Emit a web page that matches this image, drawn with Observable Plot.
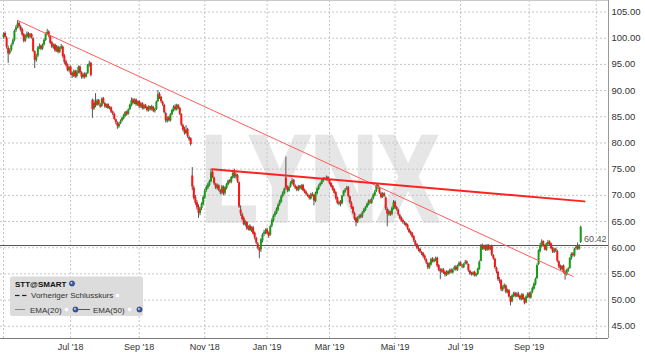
<!DOCTYPE html>
<html><head><meta charset="utf-8">
<script src="https://cdn.jsdelivr.net/npm/d3@7"></script>
<script src="https://cdn.jsdelivr.net/npm/@observablehq/plot@0.6"></script>
<style>html,body{margin:0;padding:0;background:#fff;} #chart{width:645px;height:357px;}</style>
</head><body><div id="chart"></div>
<script>
// Daily candles (trading-day index 0 = 1 May 2018 ... 370 = 18 Oct 2019)
const open = [
100.2,100.9,100.0,98.1,97.1,97.7,98.8,99.6,101.5,102.1,
102.8,102.1,101.6,100.7,99.5,100.2,100.9,100.2,100.7,99.9,
97.4,95.7,96.6,98.0,98.5,97.9,98.7,99.6,100.7,101.2,
100.3,99.1,98.2,98.7,97.5,98.3,97.3,98.0,98.3,96.6,
95.5,94.9,93.8,94.5,93.3,92.7,93.7,92.7,93.4,94.5,
93.4,92.5,93.1,92.6,93.3,94.8,95.2,
88.1,86.5,87.8,
87.2,88.1,87.2,87.0,88.5,87.5,86.8,87.3,86.5,86.7,
85.9,85.5,84.4,83.8,83.1,83.7,84.2,84.6,85.1,85.9,
85.5,86.4,87.1,88.2,87.5,88.2,87.2,87.9,86.9,87.5,
86.5,87.2,86.8,86.1,86.9,86.3,86.8,86.0,86.4,87.9,
89.3,88.7,87.8,87.2,85.6,84.1,84.8,84.2,85.4,86.1,
86.9,86.3,87.2,86.6,85.4,83.3,82.6,81.8,82.6,81.0,80.8,
73.7,
71.4,69.6,68.6,67.8,66.5,67.5,68.2,69.5,
70.9,71.4,71.9,72.6,74.4,73.3,72.1,71.3,71.8,70.9,
70.4,71.5,70.4,71.3,72.0,72.8,72.5,73.3,74.3,73.5,73.8,
72.4,
67.2,66.3,65.6,64.3,64.8,63.5,64.1,63.2,63.8,62.8,
61.8,60.7,59.8,59.6,61.3,62.6,62.8,63.4,62.8,
62.4,64.1,65.1,66.1,66.5,67.2,68.2,68.7,69.8,70.3,
73.3,
71.5,70.8,71.6,72.2,72.9,71.8,71.5,70.9,71.7,71.2,
71.9,71.0,70.6,70.1,69.9,69.3,70.2,70.0,68.8,70.3,
71.1,71.8,72.1,72.7,73.2,72.9,73.4,72.9,72.3,71.7,
71.1,70.5,69.5,68.3,68.7,68.4,69.9,70.6,71.1,71.5,
69.7,68.5,67.7,66.5,65.6,64.9,65.7,66.1,65.9,66.7,
67.1,67.7,68.2,68.9,68.5,69.3,69.9,70.7,71.9,71.4,
70.3,69.7,70.3,69.5,67.3,66.3,66.8,66.4,67.4,68.7,
67.7,67.2,66.2,65.7,65.2,64.7,64.6,64.3,63.5,63.0,
62.7,62.1,61.2,60.6,59.8,59.7,59.1,58.9,58.4,57.7,
57.0,56.1,56.7,57.8,57.3,57.5,58.0,56.6,55.8,55.3,
55.8,55.3,54.7,55.4,55.1,55.7,55.2,55.8,56.3,55.7,
56.5,57.1,56.5,56.2,56.9,57.3,56.8,55.5,55.1,54.8,
55.3,54.6,54.9,55.8,57.4,60.4,59.7,60.3,59.5,60.4,
59.6,60.3,58.5,57.8,56.1,55.3,53.8,53.7,51.9,52.3,
52.7,51.4,51.8,50.5,49.7,50.7,51.3,50.6,51.2,50.7,
50.1,51.0,50.2,49.5,50.5,51.2,50.4,51.4,52.1,52.9,
54.1,56.8,59.3,60.3,61.2,60.4,59.5,60.6,61.1,60.7,
59.9,59.1,59.7,59.3,57.3,56.4,55.8,56.5,55.3,54.8,
55.5,56.0,57.9,58.8,58.4,59.8,60.2,59.7,61.0
];
const high = [
101.0,101.2,100.3,98.5,98.0,98.9,99.8,101.6,102.4,103.4,
103.1,102.4,101.9,100.9,100.6,101.2,101.1,100.9,100.9,100.1,
97.6,96.9,98.4,98.9,98.7,98.9,99.9,101.0,101.7,101.4,
100.5,99.4,98.9,98.9,98.6,98.5,98.3,98.8,98.5,96.9,
95.8,95.1,94.6,94.7,93.5,93.9,93.9,93.8,94.7,94.7,
93.6,93.3,93.4,93.4,95.0,95.6,95.4,
88.4,88.2,89.4,
88.3,88.3,87.5,88.6,88.7,87.7,87.4,87.5,87.0,86.9,
86.1,85.7,84.6,84.0,83.9,84.4,84.9,85.5,86.0,86.1,
86.5,87.4,88.6,88.5,88.4,88.4,88.0,88.1,87.7,87.7,
87.3,87.4,86.9,87.1,87.0,87.2,87.0,86.6,88.0,90.0,
89.6,88.9,88.0,87.4,85.9,85.0,85.1,85.6,86.4,87.1,
87.3,87.4,87.3,86.8,85.6,83.6,83.0,83.3,82.8,81.3,81.0,
75.3,
71.8,70.0,69.0,68.2,67.7,68.6,69.9,71.1,
71.8,72.3,72.9,75.0,74.7,73.5,72.3,72.2,72.0,71.1,
71.9,71.8,71.7,72.3,72.9,73.0,73.6,74.5,75.0,74.3,74.0,
72.6,
68.0,66.6,65.9,65.2,65.0,64.2,64.4,64.0,64.1,63.0,
62.0,61.0,60.1,61.7,62.7,63.3,63.6,63.7,63.0,
64.3,65.5,66.3,66.9,67.6,68.4,69.1,70.0,70.7,71.4,
77.3,
71.8,71.8,72.6,73.2,73.0,72.0,71.7,71.9,71.9,72.0,
72.1,71.2,70.8,70.3,70.0,70.4,70.5,70.1,70.6,71.4,
72.0,72.4,73.0,73.4,73.4,73.7,73.6,73.0,72.4,71.9,
71.3,70.7,69.7,68.9,69.0,70.0,70.9,71.3,71.7,71.7,
69.9,68.8,67.9,66.8,65.8,65.9,66.3,66.4,66.9,67.5,
67.9,68.5,69.1,69.2,69.5,70.3,70.9,72.2,72.2,71.6,
70.6,70.5,70.5,69.7,67.6,67.2,67.0,67.8,69.0,68.9,
67.9,67.4,66.4,65.9,65.5,65.0,64.8,64.5,63.7,63.2,
62.9,62.3,61.4,60.8,60.3,59.9,59.3,59.1,58.6,57.9,
57.2,57.1,58.0,58.1,57.9,58.2,58.2,56.8,56.0,56.0,
56.0,55.5,55.6,55.6,55.9,56.0,55.9,56.5,56.6,56.7,
57.3,57.3,56.8,57.0,57.6,57.5,56.9,55.7,55.3,55.4,
55.5,55.1,56.1,57.5,60.6,60.7,60.5,60.5,60.6,60.6,
60.4,60.5,58.7,58.0,56.3,55.5,54.3,53.9,52.7,53.1,
52.9,52.1,52.0,50.7,51.0,51.5,51.5,51.4,51.5,50.9,
51.2,51.2,50.4,50.8,51.4,51.5,51.6,52.5,53.3,54.2,
56.9,59.6,60.8,61.5,61.3,60.6,60.9,61.4,61.3,60.9,
60.1,59.9,59.9,59.5,57.5,56.7,56.6,56.7,55.6,55.9,
56.2,58.1,59.0,59.1,59.9,60.4,60.9,60.6,64.1
];
const low = [
99.8,100.0,97.9,95.2,96.8,97.4,98.5,99.3,101.1,101.8,
101.8,101.2,100.3,99.1,99.2,99.9,99.9,99.9,99.8,97.2,
94.2,95.4,96.3,97.8,97.6,97.7,98.5,99.4,100.5,100.1,
98.8,98.0,97.9,97.3,97.3,97.0,97.1,97.8,96.2,95.0,
94.5,93.6,93.5,92.9,92.3,92.5,92.3,92.4,93.2,93.1,
92.2,92.2,92.2,92.4,93.1,94.5,92.6,
84.7,86.2,86.7,
87.0,87.1,86.6,86.8,87.4,86.6,86.6,86.4,86.3,85.6,
85.2,84.3,83.5,82.6,82.8,83.5,84.0,84.4,84.9,85.1,
85.3,86.2,86.9,87.3,87.3,87.0,87.0,86.6,86.6,86.3,
86.3,86.5,85.9,85.9,86.1,86.1,85.8,85.7,86.2,87.7,
88.3,87.6,87.0,85.5,83.8,83.8,84.0,84.0,85.2,85.9,
86.1,86.1,86.3,85.2,83.1,82.2,81.5,81.6,80.9,80.3,79.4,
70.9,
69.1,68.1,67.2,65.6,66.1,67.1,68.0,69.2,
70.6,71.1,71.6,72.4,73.2,71.9,71.1,71.0,70.7,70.1,
70.1,69.9,70.0,71.0,71.8,72.2,72.2,73.1,73.2,73.1,72.3,
67.5,
66.0,65.1,64.2,64.0,63.3,63.2,63.1,62.9,62.4,61.5,
60.6,59.6,57.9,59.1,60.9,62.1,62.5,62.4,61.8,
62.2,63.8,64.8,65.8,66.3,66.9,67.9,68.5,69.5,70.1,
71.0,
70.5,70.6,71.4,72.0,71.6,71.1,70.7,70.7,71.0,71.0,
70.7,70.3,69.9,69.6,69.1,69.1,69.7,68.0,68.6,70.1,
70.9,71.6,72.0,72.5,72.8,72.7,72.6,72.0,71.4,70.8,
70.2,69.1,68.2,68.0,67.8,68.2,69.7,70.4,70.9,69.5,
68.3,67.3,66.3,65.2,64.0,64.6,65.4,65.5,65.6,66.5,
66.9,67.5,68.0,68.3,68.3,69.1,69.7,70.5,71.1,70.2,
69.3,69.4,69.6,67.1,64.0,66.0,66.0,66.1,67.2,67.3,
67.0,66.0,65.3,64.9,64.5,64.2,63.9,63.3,62.7,62.3,
61.8,61.0,60.2,59.6,59.2,58.9,58.5,58.0,57.5,56.8,
55.8,55.9,56.5,57.1,57.1,57.3,56.2,55.4,53.9,55.1,
54.9,54.4,54.5,54.7,54.9,55.0,55.0,55.6,55.5,55.5,
56.3,56.4,56.0,56.0,56.7,56.7,55.3,54.7,54.6,54.6,
54.4,54.4,54.7,55.7,57.3,59.5,59.5,59.3,59.3,59.4,
59.4,58.3,57.6,55.9,55.0,53.6,53.1,51.6,51.6,52.1,
51.2,51.2,50.4,48.9,49.5,50.5,50.4,50.5,50.4,49.9,
49.9,49.9,49.1,49.3,50.3,50.2,50.2,51.2,51.9,52.7,
53.9,56.6,59.0,60.0,60.1,59.4,59.3,60.3,60.4,59.6,
58.9,58.9,59.1,57.1,56.0,55.6,55.6,55.0,53.8,54.6,
55.3,55.9,57.6,58.2,58.2,59.5,59.5,59.5,60.8
];
const close = [
100.6,100.2,98.3,97.0,97.6,98.6,99.5,101.3,102.0,102.7,
102.2,101.5,100.6,99.4,100.3,100.8,100.3,100.6,100.1,97.5,
95.8,96.4,98.1,98.4,97.9,98.6,99.6,100.8,101.1,100.4,
99.0,98.3,98.6,97.6,98.2,97.3,98.0,98.4,96.5,95.4,
94.8,93.9,94.4,93.2,92.8,93.6,92.6,93.5,94.4,93.4,
92.6,93.0,92.5,93.2,94.9,95.1,92.9,
86.4,87.6,87.1,
88.0,87.3,86.9,88.3,87.6,86.9,87.2,86.6,86.8,85.9,
85.6,84.5,83.9,83.2,83.6,84.1,84.7,85.2,85.8,85.4,
86.3,87.2,88.0,87.6,88.1,87.3,87.8,86.9,87.4,86.6,
87.1,86.7,86.2,86.9,86.4,86.9,86.1,86.3,87.8,89.2,
88.6,87.9,87.3,85.8,84.2,84.6,84.3,85.4,86.2,86.8,
86.4,87.1,86.6,85.5,83.4,82.5,81.9,82.4,81.2,80.6,79.7,
71.6,
69.4,68.5,67.7,66.6,67.4,68.3,69.6,70.8,
71.5,72.0,72.6,74.3,73.4,72.2,71.4,71.9,71.0,70.5,
71.6,70.3,71.4,72.1,72.7,72.5,73.4,74.2,73.6,73.9,72.6,
67.8,
66.5,65.4,64.4,64.9,63.6,63.9,63.3,63.7,62.6,61.9,
60.9,59.9,59.4,61.5,62.4,62.9,63.3,62.7,62.2,
64.0,65.2,66.0,66.6,67.3,68.1,68.8,69.7,70.4,71.2,
71.4,
70.9,71.5,72.3,72.8,71.9,71.4,71.0,71.6,71.3,71.8,
70.9,70.5,70.2,69.8,69.4,70.1,69.9,68.9,70.4,71.2,
71.7,72.2,72.8,73.1,73.0,73.3,72.8,72.2,71.6,71.0,
70.4,69.4,68.5,68.6,68.3,69.8,70.7,71.0,71.3,69.8,
68.6,67.6,66.6,65.5,64.8,65.6,66.0,65.8,66.6,67.2,
67.6,68.3,68.8,68.6,69.2,70.0,70.6,71.8,71.5,70.4,
69.6,70.2,69.8,67.4,66.4,66.9,66.3,67.5,68.6,67.6,
67.3,66.3,65.6,65.1,64.8,64.5,64.2,63.6,62.9,62.6,
62.0,61.3,60.5,59.9,59.6,59.2,58.8,58.3,57.8,57.1,
56.2,56.8,57.7,57.4,57.6,57.9,56.5,55.7,55.4,55.7,
55.2,54.8,55.3,55.0,55.6,55.3,55.7,56.2,55.8,56.4,
57.0,56.6,56.3,56.8,57.2,56.9,55.6,55.0,54.9,55.2,
54.7,54.9,55.9,57.2,60.3,59.8,60.2,59.6,60.3,59.7,
60.1,58.6,57.9,56.2,55.4,53.9,53.6,52.0,52.4,52.8,
51.5,51.9,50.6,49.6,50.8,51.2,50.7,51.1,50.6,50.2,
50.9,50.1,49.4,50.6,51.1,50.5,51.3,52.2,53.0,53.9,
56.6,59.4,60.4,61.1,60.3,59.6,60.7,61.0,60.6,59.8,
59.2,59.6,59.4,57.4,56.3,55.9,56.4,55.2,54.9,55.6,
55.9,57.9,58.7,58.5,59.7,60.1,59.8,60.42,63.9
];
const prevClose = 60.42;
const priceTicks = [45, 50, 55, 60, 65, 70, 75, 80, 85, 90, 95, 100, 105];
const monthIdx = [0, 43, 87, 129, 169, 209, 251, 293, 337, 380];
const monthLabels = ["", "Jul '18", "Sep '18", "Nov '18", "Jan '19", "Mär '19", "Mai '19", "Jul '19", "Sep '19", ""];
// drawn trendlines (start / end in trading-day index and price)
const trendA_x = [9, 365.2], trendA_y = [103.4, 54.5];
const trendB_x = [133.8, 372.4], trendB_y = [75.0, 68.85];

if (!(open.length === close.length && high.length === close.length && low.length === close.length)) {
  throw new Error("length mismatch o=" + open.length + " h=" + high.length + " l=" + low.length + " c=" + close.length);
}

const candles = close.map((c, i) => ({i, o: open[i], h: high[i], l: low[i], c}));
const up = candles.filter(d => d.c >= d.o);
const down = candles.filter(d => d.c < d.o);
const trendA = trendA_x.map((x, k) => ({x, y: trendA_y[k]}));
const trendB = trendB_x.map((x, k) => ({x, y: trendB_y[k]}));

const X0 = -1.923, X1 = 387.82, Y0 = 42.67, Y1 = 107.2;
const FONT = "'Liberation Sans', Arial, Helvetica, sans-serif";

const chart = Plot.plot({
  width: 645, height: 357,
  marginLeft: 0, marginRight: 37, marginTop: 0, marginBottom: 19,
  style: {fontFamily: FONT, background: "#fff", overflow: "visible"},
  x: {type: "linear", domain: [X0, X1], label: null},
  y: {type: "linear", domain: [Y0, Y1], label: null},
  marks: [
    Plot.ruleY(priceTicks, {stroke: "#c6c6c6", strokeDasharray: "2,2"}),
    Plot.ruleX(monthIdx, {stroke: "#c6c6c6", strokeDasharray: "2,2"}),
    Plot.ruleY([Y1], {stroke: "#c8c8c8"}),
    Plot.ruleY([prevClose], {stroke: "#555"}),
    Plot.ruleX(candles, {x: "i", y1: "l", y2: "h", stroke: "#555", strokeWidth: 1}),
    Plot.ruleX(up, {x: "i", y1: "o", y2: "c", stroke: "#12a012", strokeWidth: 2}),
    Plot.ruleX(down, {x: "i", y1: "o", y2: "c", stroke: "#ff1414", strokeWidth: 2}),
    Plot.line(trendA, {x: "x", y: "y", stroke: "#ff5c5c", strokeWidth: 1}),
    Plot.line(trendB, {x: "x", y: "y", stroke: "#ff2222", strokeWidth: 2}),
    Plot.text([prevClose], {y: d => d, frameAnchor: "right", dx: -2, dy: -6, textAnchor: "end",
      text: d => d.toFixed(2), fontSize: 9, fill: "#555"}),
    Plot.ruleX([X1], {stroke: "#999"}),
    Plot.ruleY([Y0], {stroke: "#777"}),
    Plot.axisY({anchor: "right", ticks: priceTicks, tickFormat: d => d.toFixed(2),
      tickSize: 0, tickPadding: 3, fontSize: 9.5, fill: "#333", label: null}),
    Plot.axisX({anchor: "bottom", ticks: monthIdx, tickFormat: d => monthLabels[monthIdx.indexOf(d)],
      tickSize: 0, tickPadding: 5, fontSize: 9, fill: "#333", label: null})
  ]
});

const svg = d3.select(chart);
// watermark
svg.insert("text", "g")
  .attr("x", 201).attr("y", 221).attr("text-anchor", "start")
  .attr("textLength", 238).attr("lengthAdjust", "spacingAndGlyphs")
  .attr("font-family", FONT).attr("font-size", 122).attr("font-weight", "bold")
  .attr("fill", "#e6e6e6").attr("stroke", "#e6e6e6").attr("stroke-width", 3.5)
  .attr("stroke-linejoin", "miter").text("LYNX");

// legend box
const g = svg.append("g").attr("font-family", FONT).attr("text-anchor", "start");
g.append("rect").attr("x", 10).attr("y", 276.5).attr("width", 133).attr("height", 39.5)
  .attr("rx", 2).attr("fill", "#dcdcdc");
const globe = (cx, cy) => {
  g.append("circle").attr("cx", cx).attr("cy", cy).attr("r", 2.6).attr("fill", "#3a5fa8").attr("stroke", "#1c2f60").attr("stroke-width", 0.6);
  g.append("circle").attr("cx", cx - 0.6).attr("cy", cy - 0.6).attr("r", 0.9).attr("fill", "#d8e4ff");
};
const square = (x, y) => g.append("rect").attr("x", x).attr("y", y).attr("width", 4).attr("height", 4)
  .attr("fill", "#fff").attr("stroke", "#d0d0d0").attr("stroke-width", 0.5);
g.append("text").attr("x", 15).attr("y", 286.5).attr("font-size", 8).attr("font-weight", "bold")
  .attr("fill", "#111").text("STT@SMART");
globe(72, 283.5);
g.append("line").attr("x1", 15).attr("x2", 19.5).attr("y1", 295.5).attr("y2", 295.5).attr("stroke", "#222").attr("stroke-width", 1.2);
g.append("line").attr("x1", 22).attr("x2", 26.5).attr("y1", 295.5).attr("y2", 295.5).attr("stroke", "#222").attr("stroke-width", 1.2);
g.append("text").attr("x", 31).attr("y", 298).attr("font-size", 8).attr("fill", "#333").text("Vorheriger Schlusskurs");
square(115.5, 293.5);
g.append("line").attr("x1", 15).attr("x2", 25).attr("y1", 309.5).attr("y2", 309.5).attr("stroke", "#888").attr("stroke-width", 1);
g.append("text").attr("x", 30).attr("y", 312.5).attr("font-size", 8).attr("fill", "#333").text("EMA(20)");
square(64.5, 307.5);
globe(75.5, 309.5);
g.append("line").attr("x1", 78).attr("x2", 90).attr("y1", 309.5).attr("y2", 309.5).attr("stroke", "#555").attr("stroke-width", 1);
g.append("text").attr("x", 93).attr("y", 312.5).attr("font-size", 8).attr("fill", "#333").text("EMA(50)");
square(127.5, 307.5);
globe(139.5, 309.5);

document.getElementById("chart").appendChild(chart);
</script>
</body></html>
